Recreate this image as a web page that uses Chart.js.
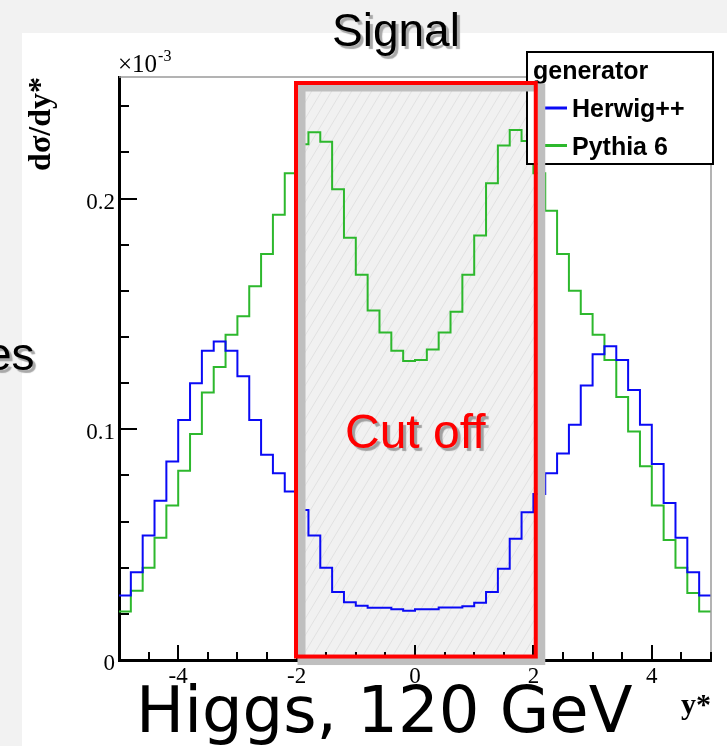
<!DOCTYPE html>
<html>
<head>
<meta charset="utf-8">
<script src="https://cdn.jsdelivr.net/npm/chart.js@4.4.1/dist/chart.umd.min.js"></script>
<style>
html,body{margin:0;padding:0;background:#f2f2f2;width:727px;height:746px;overflow:hidden;}
#panel{position:absolute;left:22px;top:33px;width:705px;height:713px;background:#ffffff;}
#wrap{position:absolute;left:0;top:0;width:727px;height:746px;}
.slide{position:absolute;white-space:nowrap;line-height:1;font-family:"Liberation Sans",Arial,sans-serif;}
#signal{left:332px;top:7px;font-size:46px;color:#000;text-shadow:3px 3px 1px #a8a8a8;}
#es{left:-14px;top:331px;font-size:46px;color:#000;text-shadow:3px 3px 1px #a8a8a8;}
#cutoff{left:345px;top:408px;font-size:48px;color:#ff0000;text-shadow:3px 3px 1px #a0a0a0;}
#higgs{left:136px;top:678px;font-size:64px;color:#000;font-family:"DejaVu Sans",sans-serif;}
</style>
</head>
<body>
<div id="panel"></div>
<div id="wrap"><canvas id="c" width="727" height="746"></canvas></div>
<div class="slide" id="signal">Signal</div>
<div class="slide" id="es">es</div>
<div class="slide" id="cutoff">Cut off</div>
<div class="slide" id="higgs">Higgs, 120 GeV</div>
<script>
// ---- data (values in units of 10^-3) ----
const binEdges = [-5.0,-4.8,-4.6,-4.4,-4.2,-4.0,-3.8,-3.6,-3.4,-3.2,
  -3.0,-2.8,-2.6,-2.4,-2.2,-2.0,-1.8,-1.6,-1.4,-1.2,
  -1.0,-0.8,-0.6,-0.4,-0.2,0.0,0.2,0.4,0.6,0.8,
  1.0,1.2,1.4,1.6,1.8,2.0,2.2,2.4,2.6,2.8,
  3.0,3.2,3.4,3.6,3.8,4.0,4.2,4.4,4.6,4.8,5.0];
const herwig = [0.028,0.038,0.054,0.069,0.086,0.104,0.120,0.134,0.138,0.134,
  0.123,0.104,0.089,0.081,0.073,0.065,0.054,0.040,0.0295,0.025,
  0.0235,0.0226,0.0226,0.022,0.0213,0.022,0.022,0.0228,0.0228,0.0233,
  0.0248,0.0295,0.0396,0.0526,0.064,0.072,0.081,0.0895,0.102,0.119,
  0.1325,0.136,0.130,0.117,0.102,0.085,0.068,0.053,0.038,0.028];
const pythia = [0.021,0.030,0.040,0.053,0.067,0.082,0.098,0.116,0.127,0.141,
  0.149,0.162,0.176,0.193,0.211,0.2235,0.2287,0.2246,0.204,0.183,
  0.167,0.1515,0.142,0.134,0.1296,0.130,0.1346,0.142,0.151,0.167,
  0.184,0.2066,0.223,0.2297,0.225,0.211,0.1947,0.176,0.160,0.150,
  0.141,0.130,0.114,0.099,0.084,0.067,0.052,0.040,0.029,0.021];
const seriesNames = ['Herwig++','Pythia 6'];
const legendTitle = 'generator';
const xMajorTicks = [-4,-2,0,2,4];
const xTickLabels = ['-4','-2','0','2','4'];
const yMajorTicks = [0,0.1,0.2];
const yTickLabels = ['0','0.1','0.2'];
const xRange = [-5,5];
const yRange = [0,0.2527];
const cutRange = {x0:-2.01, x1:2.04, y0:0.0015, y1:0.2501};

function histPoints(vals){
  const pts = vals.map((v,i)=>({x:binEdges[i], y:v}));
  pts.push({x:binEdges[vals.length], y:vals[vals.length-1]});
  return pts;
}
function majorIndex(list, v){
  return list.findIndex(m => Math.abs(m - v) < 1e-6);
}

const BLUE = '#0a0af5', GREEN = '#2db82d';

const cutFillPlugin = {
  id:'cutFill',
  beforeDatasetsDraw(chart){
    const {ctx, scales:{x,y}} = chart;
    const l = x.getPixelForValue(cutRange.x0), r = x.getPixelForValue(cutRange.x1);
    const t = y.getPixelForValue(cutRange.y1), b = y.getPixelForValue(cutRange.y0);
    ctx.save();
    ctx.fillStyle = '#f1f1f1';
    ctx.fillRect(l, t, r-l, b-t);
    ctx.beginPath(); ctx.rect(l, t, r-l, b-t); ctx.clip();
    ctx.strokeStyle = '#e1e1e1'; ctx.lineWidth = 1;
    ctx.beginPath();
    const h = b - t;
    for (let px = l - h; px < r + 10; px += 10){
      ctx.moveTo(px, b); ctx.lineTo(px + h*0.6, t);
    }
    ctx.stroke();
    ctx.restore();
  }
};

const ticksPlugin = {
  id:'rootTicks',
  afterDatasetsDraw(chart){
    const {ctx, chartArea:a, scales:{x,y}} = chart;
    ctx.save();
    ctx.strokeStyle = '#9a9a9a'; ctx.lineWidth = 1.5;
    ctx.beginPath();
    ctx.moveTo(a.left, a.top); ctx.lineTo(a.right, a.top); ctx.lineTo(a.right, a.bottom);
    ctx.stroke();
    ctx.strokeStyle = '#000'; ctx.lineWidth = 2;
    ctx.beginPath();
    y.ticks.forEach(t=>{
      const py = Math.round(y.getPixelForValue(t.value));
      const len = majorIndex(yMajorTicks, t.value) >= 0 ? 18 : 10;
      ctx.moveTo(a.left, py); ctx.lineTo(a.left + len, py);
    });
    x.ticks.forEach(t=>{
      const px = Math.round(x.getPixelForValue(t.value));
      const len = majorIndex(xMajorTicks, t.value) >= 0 ? 15 : 8;
      ctx.moveTo(px, a.bottom); ctx.lineTo(px, a.bottom - len);
    });
    ctx.stroke();
    ctx.fillStyle = '#000';
    ctx.textBaseline = 'alphabetic'; ctx.textAlign = 'left';
    ctx.font = '25px "Liberation Serif"';
    ctx.fillText('\u00d710', a.left - 1, a.top - 5);
    const w = ctx.measureText('\u00d710').width;
    ctx.font = '16px "Liberation Serif"';
    ctx.fillText('-3', a.left - 1 + w + 1, a.top - 16);
    ctx.restore();
  }
};

const overlayPlugin = {
  id:'overlay',
  afterDraw(chart){
    const {ctx, chartArea:a, scales:{x,y}} = chart;
    ctx.save();
    const lx0 = 527, ly0 = 52, lx1 = a.right + 2, ly1 = 164;
    ctx.fillStyle = '#fff';
    ctx.fillRect(lx0, ly0, lx1-lx0, ly1-ly0);
    ctx.strokeStyle = '#000'; ctx.lineWidth = 2;
    ctx.strokeRect(lx0, ly0, lx1-lx0, ly1-ly0);
    ctx.fillStyle = '#000';
    ctx.font = 'bold 25px "Liberation Sans"';
    ctx.textAlign = 'left'; ctx.textBaseline = 'alphabetic';
    ctx.fillText(legendTitle, 533, 79);
    const rows = [{name:seriesNames[0], color:BLUE, y:108},{name:seriesNames[1], color:GREEN, y:145.5}];
    rows.forEach(rw=>{
      ctx.strokeStyle = rw.color; ctx.lineWidth = 3;
      ctx.beginPath(); ctx.moveTo(543, rw.y); ctx.lineTo(567, rw.y); ctx.stroke();
      ctx.fillStyle = '#000';
      ctx.fillText(rw.name, 572, rw.y + 9);
    });
    const l = x.getPixelForValue(cutRange.x0), r = x.getPixelForValue(cutRange.x1);
    const t = y.getPixelForValue(cutRange.y1), b = y.getPixelForValue(cutRange.y0);
    ctx.strokeStyle = '#bfbfbf'; ctx.lineWidth = 8;
    ctx.strokeRect(l + 5.5, t + 4.5, r - l, b - t);
    ctx.strokeStyle = '#ff0000'; ctx.lineWidth = 4;
    ctx.strokeRect(l, t, r - l, b - t);
    ctx.restore();
  }
};

new Chart(document.getElementById('c'), {
  type:'line',
  data:{
    datasets:[
      {label:seriesNames[0], data:histPoints(herwig), borderColor:BLUE, borderWidth:2, stepped:'before', pointRadius:0, fill:false},
      {label:seriesNames[1], data:histPoints(pythia), borderColor:GREEN, borderWidth:2, stepped:'before', pointRadius:0, fill:false}
    ]
  },
  options:{
    responsive:false,
    animation:false,
    devicePixelRatio:1,
    layout:{padding:{left:0, top:77, right:16, bottom:0}},
    plugins:{legend:{display:false}, title:{display:false}, tooltip:{enabled:false}},
    scales:{
      x:{
        type:'linear', min:xRange[0], max:xRange[1],
        afterFit(s){ s.height = 86; },
        grid:{display:true, drawOnChartArea:false, drawTicks:false, color:'rgba(0,0,0,0)'},
        border:{display:true, color:'#000', width:3},
        ticks:{stepSize:0.5, autoSkip:false, maxRotation:0, minRotation:0, padding:3, color:'#000',
          font:{family:'Liberation Serif', size:23},
          callback:(v)=>{ const i = majorIndex(xMajorTicks, v); return i>=0 ? xTickLabels[i] : ''; }},
        title:{display:true, text:'y*', align:'end', color:'#000',
          font:{family:'Liberation Serif', size:30, weight:'bold'}, padding:{top:0, bottom:22}}
      },
      y:{
        type:'linear', min:yRange[0], max:yRange[1],
        afterFit(s){ s.width = 119; },
        afterBuildTicks(s){ s.ticks = s.ticks.filter(t => Math.abs(t.value/0.02 - Math.round(t.value/0.02)) < 1e-6); },
        grid:{display:true, drawOnChartArea:false, drawTicks:false, color:'rgba(0,0,0,0)'},
        border:{display:true, color:'#000', width:3},
        ticks:{stepSize:0.02, autoSkip:false, padding:4, labelOffset:4, color:'#000',
          font:{family:'Liberation Serif', size:23},
          callback:(v)=>{ const i = majorIndex(yMajorTicks, v); return i>=0 ? yTickLabels[i] : ''; }},
        title:{display:true, text:'d\u03c3/dy*', align:'end', color:'#000',
          font:{family:'Liberation Serif', size:32, weight:'bold'}, padding:{top:23, bottom:0}}
      }
    }
  },
  plugins:[cutFillPlugin, ticksPlugin, overlayPlugin]
});
</script>
</body>
</html>
